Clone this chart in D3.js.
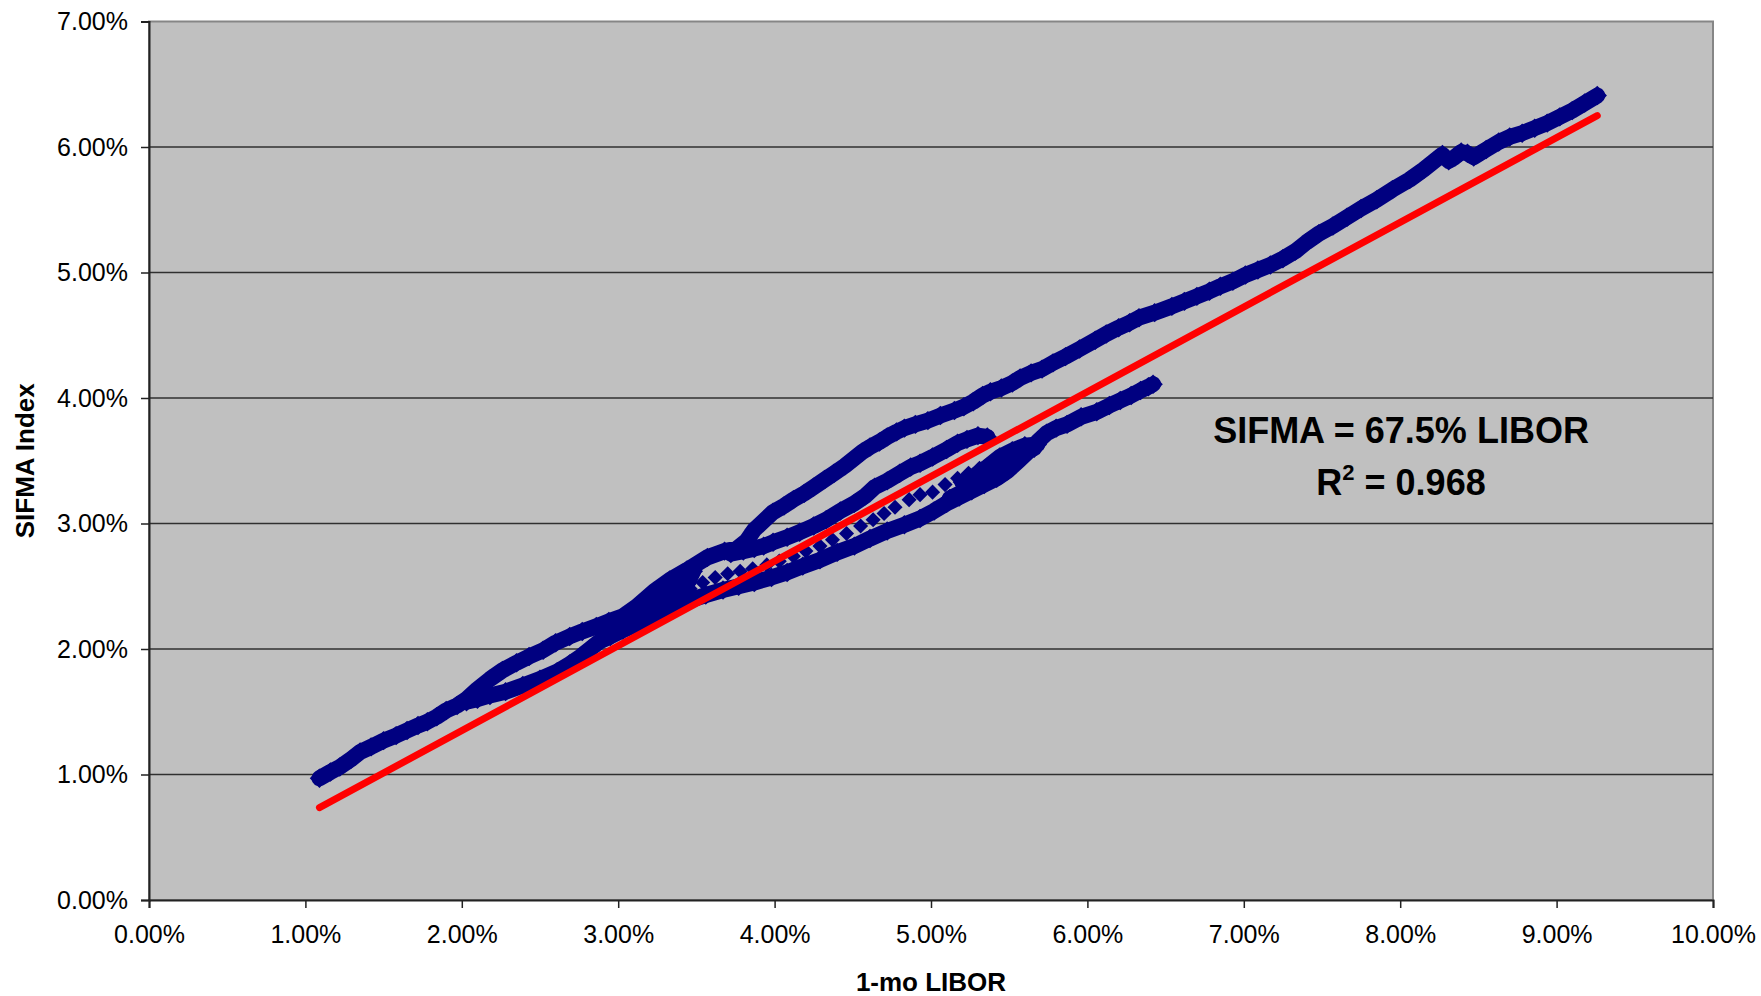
<!DOCTYPE html>
<html>
<head>
<meta charset="utf-8">
<script src="https://cdn.jsdelivr.net/npm/d3@7"></script>
<style>
  body { margin: 0; background: #ffffff; }
  svg { display: block; }
  text { font-family: "Liberation Sans", Arial, sans-serif; fill: #000; }
</style>
</head>
<body>
<div id="chart"></div>
<script>
// values, [1-mo LIBOR %, SIFMA %]
var upperBranch = [
  [1.09,0.97],[1.16,1.02],[1.22,1.06],[1.29,1.12],[1.35,1.18],[1.42,1.22],[1.50,1.27],[1.58,1.31],
  [1.65,1.35],[1.72,1.39],[1.78,1.42],[1.84,1.46],[1.90,1.51],[1.97,1.55],[2.03,1.60],[2.10,1.68],
  [2.18,1.76],[2.26,1.83],[2.35,1.89],[2.43,1.94],[2.52,1.99],[2.60,2.05],[2.69,2.10],[2.77,2.14],
  [2.86,2.18],[2.94,2.22],[3.03,2.26],[3.12,2.34],[3.23,2.46],[3.33,2.55],[3.44,2.63],[3.57,2.73],
  [3.68,2.78],[3.76,2.80],[3.82,2.86],[3.87,2.95],[3.93,3.02],[3.99,3.09],[4.06,3.14],[4.12,3.19],
  [4.19,3.24],[4.25,3.29],[4.32,3.35],[4.38,3.40],[4.45,3.46],[4.51,3.52],[4.56,3.57],[4.61,3.61],
  [4.67,3.65],[4.72,3.69],[4.78,3.73],[4.83,3.76],[4.90,3.79],[4.98,3.82],[5.06,3.86],[5.15,3.90],
  [5.21,3.93],[5.27,3.97],[5.33,4.02],[5.38,4.05],[5.45,4.08],[5.52,4.12],[5.57,4.16],[5.64,4.20],
  [5.71,4.23],[5.78,4.28],[5.86,4.33],[5.95,4.39],[6.05,4.46],[6.12,4.51],[6.20,4.56],[6.27,4.60],
  [6.33,4.64],[6.43,4.68],[6.54,4.73],[6.62,4.77],[6.70,4.81],[6.78,4.85],[6.85,4.89],[6.93,4.93],
  [7.01,4.98],[7.09,5.02],[7.17,5.06],[7.25,5.11],[7.33,5.17],[7.40,5.24],[7.48,5.31],[7.57,5.37],
  [7.66,5.44],[7.75,5.51],[7.85,5.58],[7.95,5.66],[8.06,5.74],[8.15,5.82],[8.22,5.89],[8.27,5.94],
  [8.31,5.89],[8.35,5.92],[8.39,5.96],[8.43,5.95],[8.47,5.92],[8.55,5.98],[8.63,6.04],[8.70,6.08],
  [8.78,6.11],[8.86,6.15],[8.94,6.19],[9.02,6.24],[9.10,6.29],[9.18,6.35],[9.26,6.41]
];
var lowerBranch = [
  [2.03,1.58],[2.10,1.60],[2.18,1.63],[2.28,1.66],[2.39,1.71],[2.50,1.76],[2.61,1.82],[2.69,1.88],
  [2.76,1.94],[2.82,2.00],[2.88,2.06],[2.95,2.10],[3.03,2.15],[3.14,2.21],[3.25,2.27],[3.35,2.33],
  [3.46,2.39],[3.56,2.43],[3.67,2.47],[3.77,2.50],[3.87,2.53],[3.98,2.57],[4.08,2.61],[4.18,2.66],
  [4.29,2.71],[4.40,2.77],[4.51,2.82],[4.61,2.88],[4.72,2.94],[4.83,2.99],[4.93,3.04],[5.02,3.10],
  [5.10,3.16],[5.18,3.21],[5.26,3.26],[5.34,3.31],[5.42,3.36],[5.49,3.42],[5.56,3.50],[5.62,3.57],
  [5.68,3.65],[5.74,3.72],[5.80,3.76],[5.87,3.79],[5.96,3.85],[6.06,3.89],[6.14,3.94],[6.21,3.98],
  [6.28,4.02],[6.34,4.06],[6.39,4.09],[6.42,4.11]
];
var middleBranch = [
  [3.72,2.76],[3.80,2.78],[3.87,2.80],[3.93,2.82],[3.99,2.85],[4.08,2.89],[4.16,2.93],[4.25,2.98],
  [4.33,3.03],[4.42,3.10],[4.51,3.16],[4.58,3.22],[4.64,3.29],[4.72,3.34],[4.80,3.40],[4.87,3.45],
  [4.93,3.48],[5.01,3.53],[5.10,3.59],[5.17,3.64],[5.23,3.67],[5.30,3.70],[5.36,3.69]
];
var clusterUpper = [
  [5.20,3.33],[5.28,3.38],[5.36,3.45],[5.44,3.53],[5.52,3.58],[5.60,3.62],[5.68,3.63]
];
var clusterMid = [
  [5.12,3.20],[5.20,3.25],[5.28,3.31],[5.36,3.38],[5.46,3.46],[5.56,3.55],[5.66,3.60]
];
var knot = [
  [3.14,2.30],[3.20,2.38],[3.26,2.44],[3.32,2.50],[3.40,2.56],[3.48,2.62],[3.44,2.52],
  [3.36,2.44],[3.30,2.38],[3.22,2.32]
];
// sparse stretch where single markers show
var sparseChain = [
  [3.30,2.39],[3.38,2.43],[3.46,2.48],[3.54,2.53],[3.62,2.57],[3.70,2.60],[3.78,2.62],[3.86,2.64],
  [3.95,2.67],[4.03,2.70],[4.12,2.74],[4.20,2.78],[4.29,2.82],[4.37,2.87],[4.46,2.92],[4.55,2.98],
  [4.63,3.03],[4.70,3.08],[4.77,3.13],[4.86,3.19],[4.93,3.23],[5.01,3.25],[5.09,3.31],[5.17,3.36],
  [5.24,3.40],[5.31,3.44]
];
var denseBranches = [upperBranch, lowerBranch, middleBranch, clusterUpper, clusterMid, knot];

var trendSlope = 0.675;          // SIFMA = 67.5% LIBOR
var xTicks = [0,1,2,3,4,5,6,7,8,9,10];
var yTicks = [0,1,2,3,4,5,6,7];
var xTitle = '1-mo LIBOR';
var yTitle = 'SIFMA Index';

// layout
var W = 1761, H = 996;
var margin = {top: 21.5, right: 48, bottom: 96, left: 149};
var width = W - margin.left - margin.right;
var height = H - margin.top - margin.bottom;

var navy = '#000080';
var plotBg = '#c0c0c0';

var x = d3.scaleLinear().domain([0, 10]).range([0, width]);
var y = d3.scaleLinear().domain([0, 7]).range([height, 0]);
var pct = function(d){ return d3.format('.2f')(d) + '%'; };

var svg = d3.select('#chart').append('svg')
  .attr('width', W)
  .attr('height', H);
svg.append('rect').attr('width', W).attr('height', H).attr('fill', '#fff');

var g = svg.append('g')
  .attr('transform', 'translate(' + margin.left + ',' + margin.top + ')');

// plot area
g.append('rect')
  .attr('width', width).attr('height', height)
  .attr('fill', plotBg)
  .attr('stroke', '#868686').attr('stroke-width', 2);

// gridlines
g.selectAll('.grid').data(yTicks.slice(1, -1)).enter().append('line')
  .attr('class', 'grid')
  .attr('x1', 0).attr('x2', width)
  .attr('y1', function(d){ return y(d); }).attr('y2', function(d){ return y(d); })
  .attr('stroke', '#303030').attr('stroke-width', 1.6);

// axes
var yAxis = d3.axisLeft(y).tickValues(yTicks).tickFormat(pct).tickSize(8).tickPadding(13);
var xAxis = d3.axisBottom(x).tickValues(xTicks).tickFormat(pct).tickSize(8).tickPadding(17);

var yg = g.append('g').call(yAxis);
var xg = g.append('g').attr('transform', 'translate(0,' + height + ')').call(xAxis);
[yg, xg].forEach(function(a){
  a.select('.domain').attr('stroke', '#222').attr('stroke-width', 2);
  a.selectAll('.tick line').attr('stroke', '#222').attr('stroke-width', 1.5);
  a.selectAll('.tick text')
    .style('font-family', '"Liberation Sans", Arial, sans-serif')
    .style('font-size', '25px')
    .attr('fill', '#000');
});
xg.selectAll('.tick text').attr('dy', '0.71em');

// series: dense weekly markers (drawn as a thick band plus diamonds)
var line = d3.line()
  .x(function(d){ return x(d[0]); })
  .y(function(d){ return y(d[1]); });

var series = g.append('g');
series.selectAll('path.band').data(denseBranches).enter().append('path')
  .attr('class', 'band')
  .attr('d', line)
  .attr('fill', 'none')
  .attr('stroke', navy)
  .attr('stroke-width', 16)
  .attr('stroke-linejoin', 'round')
  .attr('stroke-linecap', 'round');

var diamond = d3.symbol().type(d3.symbolDiamond2).size(240);
var smallDiamond = d3.symbol().type(d3.symbolDiamond2).size(145);
var densePoints = d3.merge(denseBranches);
series.selectAll('path.pt').data(densePoints).enter().append('path')
  .attr('class', 'pt')
  .attr('d', diamond)
  .attr('transform', function(d){ return 'translate(' + x(d[0]) + ',' + y(d[1]) + ')'; })
  .attr('fill', navy);
series.selectAll('path.sp').data(sparseChain).enter().append('path')
  .attr('class', 'sp')
  .attr('d', smallDiamond)
  .attr('transform', function(d){ return 'translate(' + x(d[0]) + ',' + y(d[1]) + ')'; })
  .attr('fill', navy);

// trend line
var xr = d3.extent(densePoints, function(d){ return d[0]; });
g.append('line')
  .attr('x1', x(xr[0])).attr('y1', y(trendSlope * xr[0]))
  .attr('x2', x(xr[1])).attr('y2', y(trendSlope * xr[1]))
  .attr('stroke', '#ff0000')
  .attr('stroke-width', 7)
  .attr('stroke-linecap', 'round');

// regression note
var note = g.append('text')
  .attr('text-anchor', 'middle')
  .style('font-size', '36px')
  .style('font-weight', 'bold');
note.append('tspan')
  .attr('x', 1401 - margin.left).attr('y', 443 - margin.top)
  .text('SIFMA = 67.5% LIBOR');
var r2 = g.append('text')
  .attr('text-anchor', 'middle')
  .attr('x', 1401 - margin.left).attr('y', 495 - margin.top)
  .style('font-size', '36px')
  .style('font-weight', 'bold');
r2.append('tspan').text('R');
r2.append('tspan').attr('dy', -15).style('font-size', '22px').text('2');
r2.append('tspan').attr('dy', 15).text(' = 0.968');

// axis titles
svg.append('text')
  .attr('x', margin.left + width / 2).attr('y', 991)
  .attr('text-anchor', 'middle')
  .style('font-size', '26px').style('font-weight', 'bold')
  .text(xTitle);
svg.append('text')
  .attr('transform', 'translate(34,' + (margin.top + height / 2) + ') rotate(-90)')
  .attr('text-anchor', 'middle')
  .style('font-size', '26px').style('font-weight', 'bold')
  .text(yTitle);
</script>
</body>
</html>
